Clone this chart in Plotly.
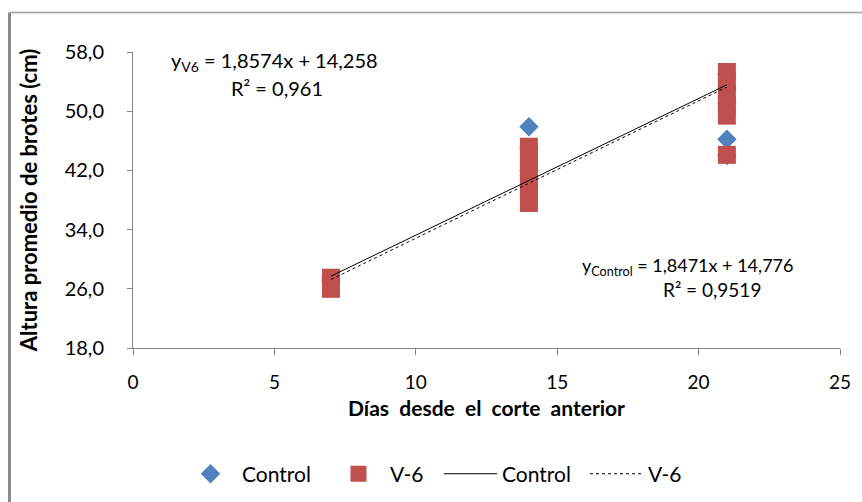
import plotly.graph_objects as go

# ---- data ----
control_x = [7, 7, 14, 14, 14, 14, 21, 21, 21, 21, 21]
control_y = [27.0, 27.4, 47.9, 45.0, 42.0, 40.0, 55.0, 53.0, 51.0, 46.2, 44.0]

v6_x = [7, 7, 14, 14, 14, 14, 14, 14, 21, 21, 21, 21, 21, 21]
v6_y = [26.0, 27.5, 37.6, 39.1, 40.6, 42.1, 43.6, 45.2, 44.1, 49.4, 50.9, 52.4, 53.9, 55.3]

# trend line coefficients (from the equations shown in the chart)
trend_range = [7, 21]
control_slope, control_intercept = 1.8471, 14.776
v6_slope, v6_intercept = 1.8574, 14.258

x_ticks = [0, 5, 10, 15, 20, 25]
y_ticks = [18, 26, 34, 42, 50, 58]

FONT = "Lato, Calibri, sans-serif"
BLUE = "#4F81BD"
RED = "#C0504D"
AXIS = "#868686"

# plot area in pixels (for placing legend pieces)
PL, PR = 133, 840
def px_to_paper_x(px):
    return (px - PL) / (PR - PL)

fig = go.Figure()
fig.add_trace(go.Scatter(
    x=control_x, y=control_y, mode="markers", name="Control", legend="legend",
    marker=dict(symbol="diamond", size=15, color=BLUE, line=dict(width=0)),
))
fig.add_trace(go.Scatter(
    x=v6_x, y=v6_y, mode="markers", name="V-6", legend="legend2",
    marker=dict(symbol="square", size=18, color=RED, line=dict(width=0)),
))
fig.add_trace(go.Scatter(
    x=trend_range, y=[control_slope * v + control_intercept for v in trend_range],
    mode="lines", name="Control", legend="legend3", line=dict(color="black", width=1),
))
fig.add_trace(go.Scatter(
    x=trend_range, y=[v6_slope * v + v6_intercept for v in trend_range],
    mode="lines", name="V-6", legend="legend4", line=dict(color="black", width=1, dash="dot"),
))

annotations = [
    dict(x=4.99, y=56.65, text="y<sub>V6</sub> = 1,8574x + 14,258", size=20),
    dict(x=5.1, y=53.1, text="R² = 0,961", size=20),
    dict(x=19.62, y=29.08, text="y<sub>Control</sub> = 1,8471x + 14,776", size=18),
    dict(x=20.47, y=25.84, text="R² = 0,9519", size=19),
]
for a in annotations:
    s = a.pop("size")
    a.update(xref="x", yref="y", showarrow=False,
             font=dict(family=FONT, size=s, color="black"),
             xanchor="center", yanchor="middle")

shapes = [
    dict(type="line", xref="paper", yref="paper", x0=-0.1747, x1=-0.1747,
         y0=1.1334, y1=-0.7, line=dict(color="#8C8C8C", width=3)),
    dict(type="line", xref="paper", yref="paper", x0=-0.1747, x1=1.2,
         y0=1.1334, y1=1.1334, line=dict(color="#A0A0A0", width=1.5)),
]

legend_y = -0.426
def legend_at(px):
    return dict(orientation="h", x=px_to_paper_x(px), xanchor="left", y=legend_y,
                yanchor="middle", font=dict(family=FONT, size=21), itemwidth=53,
                bgcolor="rgba(0,0,0,0)", borderwidth=0)

fig.update_layout(
    width=862, height=502,
    margin=dict(l=133, r=22, t=52, b=154, autoexpand=False),
    paper_bgcolor="white", plot_bgcolor="white",
    separators=",.",
    font=dict(family=FONT, size=17, color="black"),
    showlegend=True,
    legend=legend_at(179),
    legend2=legend_at(327),
    legend3=legend_at(439),
    legend4=legend_at(585),
    annotations=annotations,
    shapes=shapes,
)
fig.update_xaxes(
    range=[0, 25], tickvals=x_ticks, ticktext=[str(v) for v in x_ticks],
    showgrid=False, zeroline=False, showline=True, linecolor=AXIS, linewidth=1,
    ticks="outside", ticklen=6, tickcolor=AXIS, ticklabelstandoff=11,
    automargin=False,
    title=dict(text="<b>Días&nbsp; desde&nbsp; el&nbsp; corte&nbsp; anterior</b>",
               font=dict(family=FONT, size=21), standoff=9),
    tickfont=dict(family=FONT, size=19),
)
fig.update_yaxes(
    range=[18, 58], tickvals=y_ticks, tickformat=".1f",
    showgrid=False, zeroline=False, showline=True, linecolor=AXIS, linewidth=1,
    ticks="outside", ticklen=5, tickcolor=AXIS, ticklabelstandoff=19,
    automargin=False,
    title=dict(text="<b>Altura promedio de brotes (cm)</b>", font=dict(family=FONT, size=22), standoff=20),
    tickfont=dict(family=FONT, size=20),
)

fig.write_html("out.html")
